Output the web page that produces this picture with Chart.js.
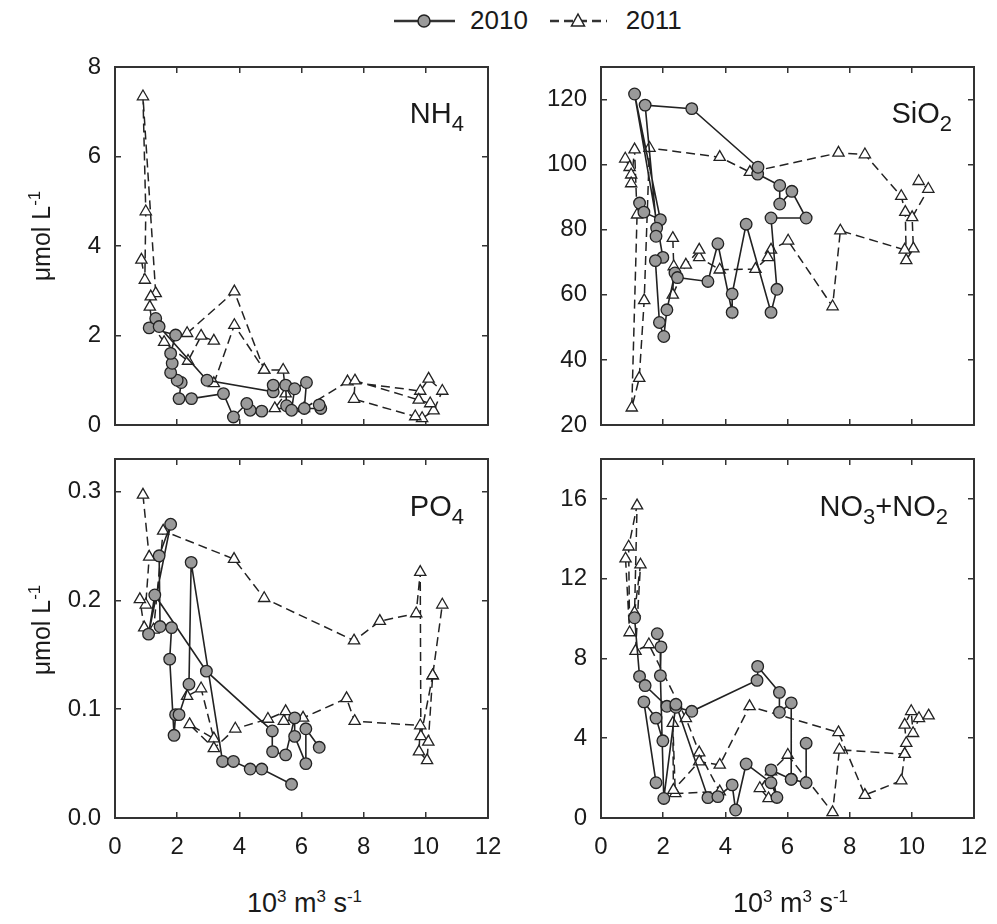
<!DOCTYPE html>
<html>
<head>
<meta charset="utf-8">
<script src="https://cdn.jsdelivr.net/npm/chart.js@4.4.1/dist/chart.umd.min.js"></script>
<style>
  body { margin: 0; background: #fff; font-family: "Liberation Sans", Arial, sans-serif; color: #1a1a1a; }
  #wrap { position: relative; width: 997px; height: 924px; overflow: hidden; }
  canvas { position: absolute; }
  .panel { position: absolute; font-size: 29px; line-height: 29px; white-space: nowrap; text-align: right; }
  .panel sub { font-size: 22px; vertical-align: baseline; position: relative; top: 8px; }
  .xt { position: absolute; width: 373px; font-size: 27px; line-height: 27px; text-align: center; white-space: nowrap; }
  .yt { position: absolute; width: 200px; font-size: 25px; line-height: 25px; text-align: center; white-space: nowrap; transform: rotate(-90deg); }
  sup { font-size: 17px; vertical-align: baseline; position: relative; top: -10px; }
  #legend { position: absolute; left: 394px; top: 5px; display: flex; align-items: center; font-size: 26px; }
</style>
</head>
<body>
<div id="wrap">
  <div id="legend">
    <svg width="61" height="26"><line x1="0" y1="13" x2="61" y2="13" stroke="#333" stroke-width="2.5"/><circle cx="30" cy="13" r="6" fill="#9a9a9a" stroke="#222" stroke-width="1.5"/></svg>
    <span style="margin:0 22px 0 15px">2010</span>
    <svg width="57" height="26"><line x1="0" y1="13" x2="57" y2="13" stroke="#333" stroke-width="2.5" stroke-dasharray="9,5"/><polygon points="28,6 34.5,18 21.5,18" fill="#fff" stroke="#222" stroke-width="1.5"/></svg>
    <span style="margin:0 0 0 19px">2011</span>
  </div>

  <canvas id="c1" width="510" height="400" style="left:0px;top:40px"></canvas>
  <canvas id="c2" width="510" height="400" style="left:486px;top:40px"></canvas>
  <canvas id="c3" width="510" height="440" style="left:0px;top:440px"></canvas>
  <canvas id="c4" width="510" height="440" style="left:486px;top:440px"></canvas>

  <div class="panel" style="right:533px;top:99px">NH<sub>4</sub></div>
  <div class="panel" style="right:45px;top:99px">SiO<sub>2</sub></div>
  <div class="panel" style="right:533px;top:492px">PO<sub>4</sub></div>
  <div class="panel" style="right:49px;top:492px">NO<sub>3</sub>+NO<sub>2</sub></div>

  <div class="yt" style="left:-57px;top:222px">&mu;mol L<sup>-1</sup></div>
  <div class="yt" style="left:-57px;top:616px">&mu;mol L<sup>-1</sup></div>

  <div class="xt" style="left:118px;top:890px">10<sup>3</sup> m<sup>3</sup> s<sup>-1</sup></div>
  <div class="xt" style="left:604px;top:890px">10<sup>3</sup> m<sup>3</sup> s<sup>-1</sup></div>
</div>

<script>
// discharge axis (10^3 m3/s), same for all panels
var xRange = [0, 12];
var xTicks = [0, 2, 4, 6, 8, 10, 12];

var nh4Range = [0, 8];
var nh4Ticks = [0, 2, 4, 6, 8];
var sio2Range = [20, 130];
var sio2Ticks = [20, 40, 60, 80, 100, 120];
var po4Range = [0, 0.33];
var po4Ticks = [0, 0.1, 0.2, 0.3];
var no3Range = [0, 18];
var no3Ticks = [0, 4, 8, 12, 16];

// [flow, concentration]; null breaks the line
var nh4_2010 = [[4.72,0.31],[4.35,0.33],[4.24,0.48],[3.81,0.18],[3.49,0.70],[2.46,0.59],[2.06,0.59],[2.13,0.95],[2.00,1.00],[1.79,1.17],[1.84,1.38],[1.79,1.60],[1.95,2.01],[1.10,2.17],[1.31,2.38],[1.42,2.20],[2.96,1.00],[5.09,0.74],[5.09,0.89],[5.49,0.89],[5.52,0.43],[5.68,0.33],[5.78,0.81],[6.16,0.95],[6.09,0.37],[6.62,0.37],[6.57,0.45]];
var nh4_2011 = [[0.85,3.69],[0.96,3.24],[0.99,4.77],[0.90,7.34],[1.31,2.94],[1.15,2.87],[1.12,2.64],[1.20,2.23],[1.58,1.85],[2.35,1.43],[2.77,1.99],[3.18,1.88],null,
  [2.32,2.05],[3.84,2.98],[4.80,1.23],[5.41,1.23],[5.49,0.70],[5.14,0.37],[6.08,0.37],[7.48,0.97],[9.82,0.76],[10.09,1.03],[10.53,0.76],[10.25,0.32],[9.88,0.15],[9.66,0.19],[7.69,0.58],[7.72,0.99],[9.77,0.56],[10.14,0.48],null,
  [3.18,0.93],[3.84,2.23],[4.80,1.23]];

var sio2_2010 = [[1.24,88.2],[1.38,85.4],[1.91,83.1],[1.08,121.7],[1.99,71.5],[1.75,70.5],[1.88,51.5],[2.02,47.2],[2.12,55.4],[2.38,66.7],[2.46,65.3],[3.44,64.1],[3.76,75.7],[4.22,54.6],[4.22,60.3],[4.67,81.7],[5.47,54.6],[5.66,61.7],[5.47,83.6],[6.60,83.6],[6.14,91.8],[5.75,87.9],[5.75,93.6],[5.04,97.1],[5.05,99.2],[2.92,117.2],[1.42,118.3],[1.79,80.5],[1.77,78.0]];
var sio2_2011 = [[0.78,101.8],[0.92,99.2],[0.97,96.9],[0.97,94.2],[1.08,104.6],[1.16,84.6],[0.99,25.3],[1.23,34.4],[1.39,58.3],[1.56,105.1],[3.82,102.3],[4.79,97.7],[7.64,103.6],[8.49,103.1],[9.66,90.3],[9.79,85.4],[9.82,70.6],[10.05,74.2],[10.01,83.8],[10.53,92.5],[10.22,94.9],null,
  [9.77,73.8],[7.70,79.7],[7.45,56.4],[6.02,76.6],[5.47,73.8],[5.37,71.5],[4.97,67.9],[3.82,67.7],[3.16,71.5],[3.16,73.8],[2.73,69.2],[2.31,60.0],[2.34,68.7],[2.31,77.4]];

var po4_2010 = [[6.57,0.065],[6.14,0.082],[6.14,0.050],[5.78,0.075],[5.78,0.092],[5.49,0.058],[5.07,0.061],[5.06,0.080],[2.94,0.135],[1.28,0.205],[1.08,0.169],[1.79,0.270],[1.42,0.241],[1.45,0.176],[1.82,0.175],[1.76,0.146],[1.90,0.076],[1.95,0.095],[2.06,0.095],[2.38,0.123],[2.45,0.235],[3.46,0.052],[3.81,0.052],[4.35,0.045],[4.72,0.045],[5.68,0.031]];
var po4_2011 = [[0.90,0.297],[1.10,0.240],[0.99,0.196],[0.80,0.201],[0.94,0.175],[1.24,0.173],[1.55,0.264],[3.83,0.238],[4.80,0.202],[7.69,0.163],[8.52,0.181],[9.69,0.188],[9.82,0.226],[9.84,0.075],[10.22,0.131],null,
  [2.32,0.112],[2.77,0.119],[3.18,0.073],[2.40,0.086],[3.18,0.064],[3.87,0.082],[4.92,0.091],[5.49,0.098],[5.43,0.089],[6.05,0.092],[7.45,0.110],[7.71,0.089],[9.82,0.085],[9.78,0.061],[10.04,0.053],[10.08,0.070],[10.22,0.131],[10.53,0.196]];

var no3_2010 = [[1.08,10.04],[1.24,7.10],[1.42,6.64],[2.12,5.60],[2.41,5.55],[2.92,5.35],[5.02,6.90],[5.04,7.60],[5.74,6.30],[5.74,5.30],[6.12,5.77],[6.12,1.94],[6.60,1.77],[6.60,3.75],null,
  [1.81,9.24],[1.93,8.58],[1.91,7.14],[2.02,0.98],[2.41,5.70],[3.44,1.02],[3.76,1.07],[4.22,1.66],[4.33,0.40],[4.67,2.71],[5.47,1.77],[5.66,1.03],[5.47,2.41],[6.12,1.94],null,
  [1.99,3.87],[1.77,5.01],[1.38,5.82],[1.77,1.77]];
var no3_2011 = [[0.79,13.0],[0.92,9.3],[0.89,13.6],[1.16,15.66],[1.08,10.3],[1.27,12.7],[1.11,8.37],[1.54,8.7],[2.73,5.0],[3.16,3.28],[3.82,1.32],[2.39,1.23],[2.31,4.76],[2.33,1.40],[3.16,2.83],[3.82,2.66],[4.78,5.60],[7.64,4.29],[8.49,1.15],[9.66,1.87],[9.77,3.2],[9.82,3.75],[9.77,4.67],[9.98,5.35],[10.04,4.25],[10.23,5.0],[10.54,5.13],null,
  [5.39,0.98],[5.11,1.49],[5.47,2.33],[6.01,3.16],[7.45,0.28],[7.67,3.42],[9.77,3.2]];

var frameColor = "#333";
var tickFont = { family: "'Liberation Sans', Arial, sans-serif", size: 24 };

function toPoints(arr) {
  return arr.map(function (p) { return p ? { x: p[0], y: p[1] } : { x: null, y: null }; });
}

function axis(pos, range, vals, showLabels, size, fmt) {
  var horiz = pos === "top" || pos === "bottom";
  return {
    type: "linear",
    axis: horiz ? "x" : "y",
    position: pos,
    min: range[0],
    max: range[1],
    afterBuildTicks: function (s) { s.ticks = vals.map(function (v) { return { value: v }; }); },
    afterFit: function (s) {
      if (horiz) s.height = size; else s.width = size;
      // keep label overhang from shrinking the plot area
      s.paddingLeft = 0; s.paddingRight = 0; s.paddingTop = 0; s.paddingBottom = 0;
    },
    ticks: {
      display: showLabels,
      color: "#1a1a1a",
      font: tickFont,
      padding: horiz ? 21 : 20,
      maxRotation: 0,
      autoSkip: false,
      callback: fmt || function (v) { return String(v); }
    },
    grid: { display: true, drawOnChartArea: false, drawTicks: true, tickLength: -6, color: frameColor, lineWidth: 1.5 },
    border: { display: true, color: frameColor, width: 2 }
  };
}

function makeChart(id, d2010, d2011, yRange, yVals, yFmt, bottomRow) {
  new Chart(document.getElementById(id), {
    type: "scatter",
    data: {
      datasets: [
        {
          label: "2010",
          data: toPoints(d2010),
          showLine: true,
          borderColor: "#222",
          borderWidth: 1.6,
          pointStyle: "circle",
          pointRadius: 5.8,
          pointBackgroundColor: "#9a9a9a",
          pointBorderColor: "#222",
          pointBorderWidth: 1.3
        },
        {
          label: "2011",
          data: toPoints(d2011),
          showLine: true,
          borderColor: "#222",
          borderWidth: 1.5,
          borderDash: [9, 5],
          pointStyle: "triangle",
          pointRadius: 6.5,
          pointBackgroundColor: "#fff",
          pointBorderColor: "#222",
          pointBorderWidth: 1.3
        }
      ]
    },
    options: {
      responsive: false,
      animation: false,
      events: [],
      layout: { padding: { top: bottomRow ? 19 : 27, right: 22, bottom: 0, left: 0 } },
      plugins: { legend: { display: false }, tooltip: { enabled: false } },
      scales: {
        x: axis("bottom", xRange, xTicks, bottomRow, bottomRow ? 62 : 15),
        x2: axis("top", xRange, xTicks, false, 0),
        y: axis("left", yRange, yVals, true, 115, yFmt),
        y2: axis("right", yRange, yVals, false, 0)
      }
    }
  });
}

makeChart("c1", nh4_2010, nh4_2011, nh4Range, nh4Ticks, null, false);
makeChart("c2", sio2_2010, sio2_2011, sio2Range, sio2Ticks, null, false);
makeChart("c3", po4_2010, po4_2011, po4Range, po4Ticks, function (v) { return v.toFixed(1); }, true);
makeChart("c4", no3_2010, no3_2011, no3Range, no3Ticks, null, true);
</script>
</body>
</html>
